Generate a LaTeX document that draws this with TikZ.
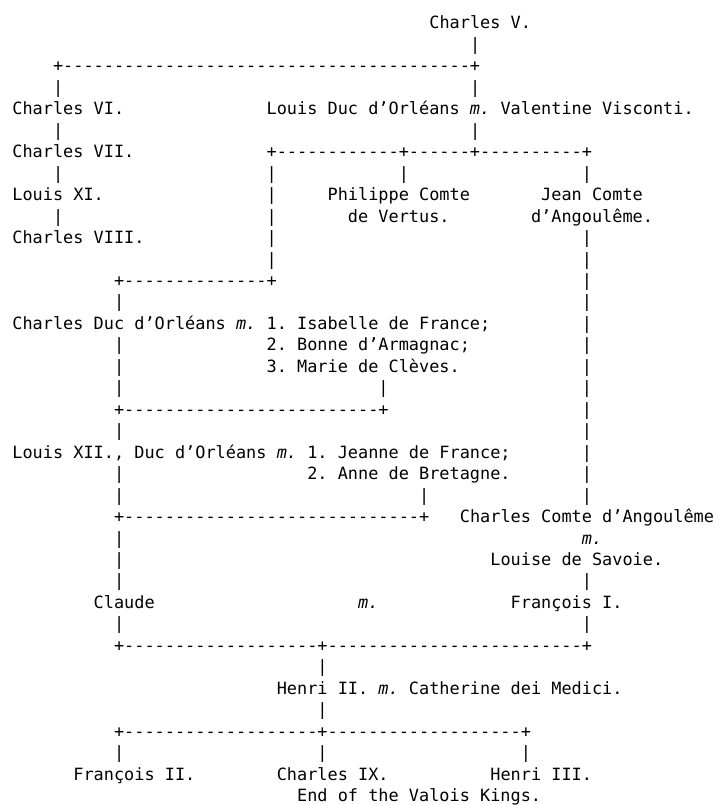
\documentclass[tikz,border=0pt]{standalone}
\usepackage{fontspec}
\setmonofont{DejaVu Sans Mono}[ItalicFont={DejaVu Sans Mono Oblique}]
\ExplSyntaxOn
\cs_new:Npn \dashrun #1 { \prg_replicate:nn {#1} {-} }
\ExplSyntaxOff
\newcommand\mm{{\itshape m.}}
\tikzset{txt/.style={anchor=base west, inner sep=0pt, outer sep=0pt,
  font=\ttfamily\fontsize{16.89pt}{20pt}\selectfont, text=black}}
\newcommand\tx[4]{\node[txt] (#1) at ({2.2pt+#2*10.17pt},{-29pt-#3*21.46pt}) {#4};}
\begin{document}
\begin{tikzpicture}
\fill[white] (0pt,0pt) rectangle (715pt,-805pt);
\useasboundingbox (0pt,0pt) rectangle (715pt,-805pt);
\tx{charlesV}{42}{0}{Charles V.}
\tx{b1}{46}{1}{|}
\tx{h2}{5}{2}{+\dashrun{40}+}
\tx{b3a}{5}{3}{|} \tx{b3b}{46}{3}{|}
\tx{charlesVI}{1}{4}{Charles VI.}
\tx{louisDuc}{26}{4}{Louis Duc d’Orléans \mm{} Valentine Visconti.}
\tx{b5a}{5}{5}{|} \tx{b5b}{46}{5}{|}
\tx{charlesVII}{1}{6}{Charles VII.}
\tx{h6}{26}{6}{+\dashrun{12}+\dashrun{6}+\dashrun{10}+}
\tx{b7a}{5}{7}{|} \tx{b7b}{26}{7}{|} \tx{b7c}{39}{7}{|} \tx{b7d}{57}{7}{|}
\tx{louisXI}{1}{8}{Louis XI.} \tx{b8}{26}{8}{|}
\tx{philippe}{32}{8}{Philippe Comte} \tx{jean}{53}{8}{Jean Comte}
\tx{b9a}{5}{9}{|} \tx{b9b}{26}{9}{|}
\tx{vertus}{34}{9}{de Vertus.} \tx{angj}{52}{9}{d’Angoulême.}
\tx{charlesVIII}{1}{10}{Charles VIII.} \tx{b10a}{26}{10}{|} \tx{b10b}{57}{10}{|}
\tx{b11a}{26}{11}{|} \tx{b11b}{57}{11}{|}
\tx{h12}{11}{12}{+\dashrun{14}+} \tx{b12}{57}{12}{|}
\tx{b13a}{11}{13}{|} \tx{b13b}{57}{13}{|}
\tx{charlesDuc}{1}{14}{Charles Duc d’Orléans \mm{} 1. Isabelle de France;} \tx{b14}{57}{14}{|}
\tx{b15a}{11}{15}{|} \tx{bonne}{26}{15}{2. Bonne d’Armagnac;} \tx{b15b}{57}{15}{|}
\tx{b16a}{11}{16}{|} \tx{marie}{26}{16}{3. Marie de Clèves.} \tx{b16b}{57}{16}{|}
\tx{b17a}{11}{17}{|} \tx{b17b}{37}{17}{|} \tx{b17c}{57}{17}{|}
\tx{h18}{11}{18}{+\dashrun{25}+} \tx{b18}{57}{18}{|}
\tx{b19a}{11}{19}{|} \tx{b19b}{57}{19}{|}
\tx{louisXII}{1}{20}{Louis XII., Duc d’Orléans \mm{} 1. Jeanne de France;} \tx{b20}{57}{20}{|}
\tx{b21a}{11}{21}{|} \tx{anne}{30}{21}{2. Anne de Bretagne.} \tx{b21b}{57}{21}{|}
\tx{b22a}{11}{22}{|} \tx{b22b}{41}{22}{|} \tx{b22c}{57}{22}{|}
\tx{h23}{11}{23}{+\dashrun{29}+} \tx{charlesComte}{45}{23}{Charles Comte d’Angoulême}
\tx{b24}{11}{24}{|} \tx{m24}{57}{24}{\mm}
\tx{b25}{11}{25}{|} \tx{louise}{48}{25}{Louise de Savoie.}
\tx{b26a}{11}{26}{|} \tx{b26b}{57}{26}{|}
\tx{claude}{9}{27}{Claude} \tx{m27}{35}{27}{\mm} \tx{francoisI}{50}{27}{François I.}
\tx{b28a}{11}{28}{|} \tx{b28b}{57}{28}{|}
\tx{h29}{11}{29}{+\dashrun{19}+\dashrun{25}+}
\tx{b30}{31}{30}{|}
\tx{henriII}{27}{31}{Henri II. \mm{} Catherine dei Medici.}
\tx{b32}{31}{32}{|}
\tx{h33}{11}{33}{+\dashrun{19}+\dashrun{19}+}
\tx{b34a}{11}{34}{|} \tx{b34b}{31}{34}{|} \tx{b34c}{51}{34}{|}
\tx{francoisII}{7}{35}{François II.} \tx{charlesIX}{27}{35}{Charles IX.} \tx{henriIII}{48}{35}{Henri III.}
\tx{endvalois}{29}{36}{End of the Valois Kings.}
\end{tikzpicture}
\end{document}
